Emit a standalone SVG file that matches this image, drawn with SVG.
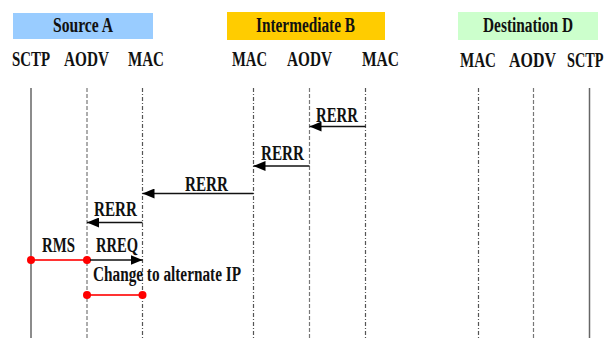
<svg xmlns="http://www.w3.org/2000/svg" width="606" height="338" viewBox="0 0 606 338">
  <style>
    text { font-family: "Liberation Serif", "Times New Roman", serif; font-weight: bold; fill: #111; }
    .title { font-size: 20px; }
    .layer { font-size: 21px; }
    .msg { font-size: 20px; }
    .solid { stroke: #666; stroke-width: 1.5; fill: none; }
    .dashed { stroke: #777; stroke-width: 1.2; stroke-dasharray: 4 2; fill: none; }
    .dashdot { stroke: #555; stroke-width: 1.2; stroke-dasharray: 4 2 1 2; fill: none; }
    .arrow { stroke: #111; stroke-width: 1.5; fill: none; marker-end: url(#head); }
    .red { stroke: #ff3333; stroke-width: 2; fill: none; }
    .dot { fill: #ff0000; }
  </style>
  <defs>
    <marker id="head" markerUnits="userSpaceOnUse" markerWidth="13" markerHeight="10" refX="12" refY="5" orient="auto">
      <path d="M0,0 L12,5 L0,10 Z" fill="#000"/>
    </marker>
  </defs>
  <rect width="606" height="338" fill="#fff"/>

  <!-- node A: source -->
  <g id="source-a">
    <rect x="13" y="13" width="140" height="26" fill="#99ccff"/>
    <text class="title" x="53" y="32" textLength="60" lengthAdjust="spacingAndGlyphs">Source A</text>
    <text class="layer" x="12" y="66" textLength="38" lengthAdjust="spacingAndGlyphs">SCTP</text>
    <text class="layer" x="64" y="66" textLength="45" lengthAdjust="spacingAndGlyphs">AODV</text>
    <text class="layer" x="128" y="66" textLength="36" lengthAdjust="spacingAndGlyphs">MAC</text>
    <line class="solid" x1="31" y1="88" x2="31" y2="338"/>
    <line class="dashed" x1="87" y1="88" x2="87" y2="338"/>
    <line class="dashdot" x1="142.5" y1="88" x2="142.5" y2="338"/>
  </g>

  <!-- node B: intermediate -->
  <g id="intermediate-b">
    <rect x="227" y="12" width="158" height="28" fill="#ffcc00"/>
    <text class="title" x="256" y="32" textLength="99" lengthAdjust="spacingAndGlyphs">Intermediate B</text>
    <text class="layer" x="232" y="66" textLength="35" lengthAdjust="spacingAndGlyphs">MAC</text>
    <text class="layer" x="287" y="66" textLength="45" lengthAdjust="spacingAndGlyphs">AODV</text>
    <text class="layer" x="362" y="66" textLength="37" lengthAdjust="spacingAndGlyphs">MAC</text>
    <line class="dashdot" x1="253.5" y1="88" x2="253.5" y2="338"/>
    <line class="dashed" x1="309.5" y1="88" x2="309.5" y2="338"/>
    <line class="dashdot" x1="365.5" y1="88" x2="365.5" y2="338"/>
  </g>

  <!-- node D: destination -->
  <g id="destination-d">
    <rect x="458" y="12" width="140" height="28" fill="#ccffcc"/>
    <text class="title" x="483" y="32" textLength="90" lengthAdjust="spacingAndGlyphs">Destination D</text>
    <text class="layer" x="460" y="67" textLength="36" lengthAdjust="spacingAndGlyphs">MAC</text>
    <text class="layer" x="0" y="0" transform="translate(509,67) scale(0.76,1)">AODV</text>
    <text class="layer" x="0" y="0" transform="translate(567,67) scale(0.68,1)">SCTP</text>
    <line class="dashdot" x1="478.5" y1="88" x2="478.5" y2="338"/>
    <line class="dashed" x1="533.5" y1="88" x2="533.5" y2="338"/>
    <line class="solid" x1="589.5" y1="88" x2="589.5" y2="338"/>
  </g>

  <!-- message exchange -->
  <g id="connectors">
    <line class="arrow" x1="365.5" y1="126.5" x2="309.5" y2="126.5"/>
    <text class="msg" x="316" y="122" textLength="42" lengthAdjust="spacingAndGlyphs">RERR</text>

    <line class="arrow" x1="309.5" y1="166" x2="253.5" y2="166"/>
    <text class="msg" x="261" y="160" textLength="43" lengthAdjust="spacingAndGlyphs">RERR</text>

    <line class="arrow" x1="253.5" y1="193.5" x2="142.5" y2="193.5"/>
    <text class="msg" x="185" y="191" textLength="43" lengthAdjust="spacingAndGlyphs">RERR</text>

    <line class="arrow" x1="142.5" y1="222.5" x2="87" y2="222.5"/>
    <text class="msg" x="94" y="216" textLength="43" lengthAdjust="spacingAndGlyphs">RERR</text>

    <line class="red" x1="31" y1="260" x2="87" y2="260"/>
    <circle class="dot" cx="31" cy="260" r="4"/>
    <circle class="dot" cx="87" cy="260" r="4"/>
    <text class="msg" x="42" y="252" textLength="33" lengthAdjust="spacingAndGlyphs">RMS</text>

    <line class="arrow" x1="90" y1="260" x2="142.5" y2="260"/>
    <text class="msg" x="96" y="252" textLength="42" lengthAdjust="spacingAndGlyphs">RREQ</text>

    <text class="msg" x="93" y="281" textLength="148" lengthAdjust="spacingAndGlyphs">Change to alternate IP</text>
    <line class="red" x1="87" y1="295" x2="142.5" y2="295"/>
    <circle class="dot" cx="87" cy="295" r="4"/>
    <circle class="dot" cx="142.5" cy="295" r="4"/>
  </g>
</svg>
